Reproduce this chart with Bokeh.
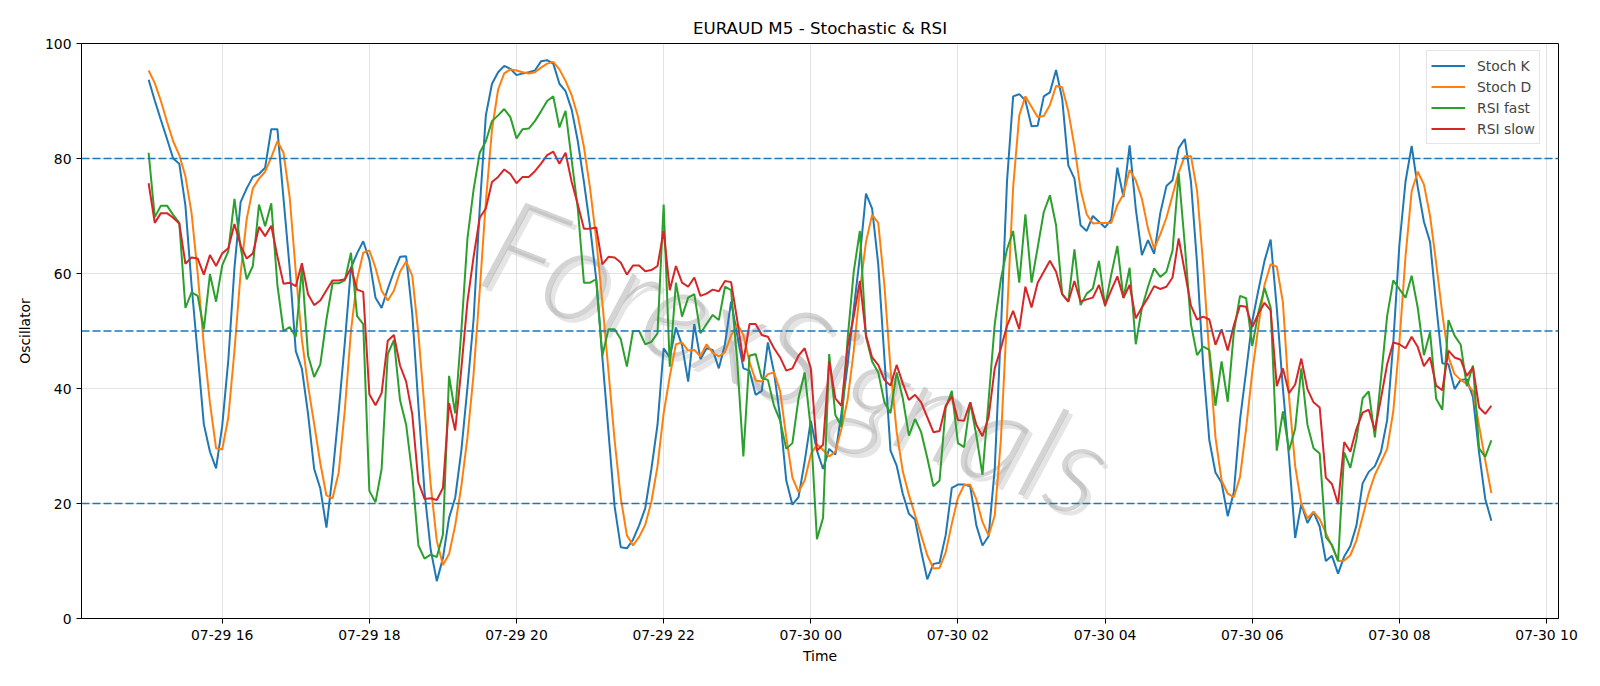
import pandas as pd
from bokeh.plotting import figure
from bokeh.models import Range1d, FixedTicker, Span
from bokeh.core.properties import value
from bokeh.embed import file_html
from bokeh.resources import INLINE

# 5-minute bars, EURAUD
start_time = "2024-07-29 15:00"

stoch_k = [
    93.7, 90.1, 86.7, 83.4, 80.0, 79.1, 71.8, 58.0, 46.0, 33.8,
    29.0, 26.1, 33.5, 45.0, 61.0, 72.4, 74.8, 76.8, 77.3, 78.4,
    85.1, 85.1, 73.0, 61.0, 46.5, 43.4, 35.6, 26.0, 22.6, 15.8,
    25.0, 36.0, 48.0, 61.0, 63.5, 65.6, 62.4, 55.8, 54.0, 57.3,
    60.3, 62.9, 63.0, 53.0, 37.0, 22.0, 12.0, 6.5, 10.5, 17.5,
    21.0, 29.2, 40.2, 52.0, 71.3, 87.5, 93.0, 95.0, 96.1, 95.6,
    94.5, 94.8, 95.0, 95.3, 96.9, 97.1, 96.5, 93.0, 91.7, 88.5,
    83.0, 75.9, 68.1, 59.0, 45.4, 32.4, 19.5, 12.4, 12.2, 13.7,
    16.2, 19.2, 26.0, 33.7, 47.0, 45.4, 50.6, 47.5, 41.2, 51.2,
    45.1, 47.0, 46.7, 43.5, 47.7, 55.1, 49.3, 43.5, 43.1, 38.9,
    39.6, 48.0, 42.8, 35.0, 24.0, 19.8, 21.1, 27.3, 34.4, 29.2,
    26.0, 29.5, 28.5, 35.7, 44.1, 53.8, 62.9, 73.9, 71.3, 61.6,
    45.4, 29.2, 26.6, 21.7, 18.2, 17.2, 11.7, 6.8, 9.5, 9.7,
    14.5, 22.7, 23.3, 23.3, 23.0, 16.2, 12.7, 14.3, 26.0, 50.0,
    76.0, 90.8, 91.2, 90.1, 85.6, 85.7, 90.8, 91.5, 95.4, 90.4,
    78.8, 76.5, 68.4, 67.4, 70.0, 69.0, 68.0, 69.4, 78.4, 73.3,
    82.3, 71.3, 63.2, 65.8, 63.4, 70.5, 75.2, 76.2, 81.8, 83.4,
    76.0, 61.7, 44.0, 31.0, 25.4, 23.6, 17.8, 22.0, 34.5, 43.0,
    51.7, 57.1, 62.2, 65.9, 54.0, 40.0, 28.0, 14.0, 19.9, 16.6,
    18.5, 16.0, 10.0, 10.9, 7.8, 10.8, 12.6, 16.2, 23.5, 25.5,
    26.5, 29.0, 34.5, 48.0, 65.0, 76.0, 82.2, 75.0, 69.0, 65.5,
    54.5, 44.4, 44.2, 39.9, 41.5, 41.6, 38.5, 28.8, 20.8, 17.0,
]

stoch_d = [
    95.3, 93.1, 90.0, 86.4, 83.0, 80.6, 76.9, 70.5, 60.0, 47.5,
    37.5, 29.6, 29.4, 35.0, 46.6, 60.0, 69.5, 74.8, 76.5, 77.7,
    80.2, 83.0, 81.0, 73.3, 60.3, 48.5, 40.5, 33.8, 27.0, 21.4,
    20.9, 25.4, 36.3, 50.0, 59.0, 63.6, 64.0, 61.0, 57.0, 55.3,
    57.0, 60.3, 62.1, 59.6, 49.5, 36.5, 23.3, 13.5, 9.3, 11.2,
    16.2, 23.0, 31.5, 42.5, 57.0, 72.5, 85.0, 92.0, 94.8, 95.5,
    95.3, 95.0, 94.8, 95.0, 95.8, 96.5, 96.8, 95.5, 93.5, 91.0,
    87.4, 82.0, 74.8, 66.0, 55.0, 43.0, 31.0, 21.0, 14.5, 12.7,
    14.2, 16.3, 20.3, 26.5, 35.7, 42.1, 47.7, 48.0, 46.6, 46.7,
    45.6, 47.7, 46.2, 45.6, 46.3, 49.2, 51.2, 49.3, 44.6, 41.4,
    41.2, 42.5, 42.8, 39.5, 31.5, 24.5, 22.0, 24.0, 28.5, 30.3,
    29.3, 28.2, 29.0, 33.0, 38.0, 46.5, 57.0, 65.5, 70.2, 68.8,
    58.0, 43.5, 32.5, 25.6, 21.5, 18.0, 14.5, 11.0, 8.7, 8.8,
    11.5, 16.5, 21.0, 23.2, 23.3, 20.7, 16.8, 14.4, 17.9, 31.0,
    52.5, 75.0, 87.5, 90.8, 89.0, 87.2, 87.4, 89.3, 92.6, 92.4,
    88.2, 82.1, 74.6, 70.3, 68.7, 68.8, 68.8, 68.8, 71.9, 73.8,
    78.0, 76.2, 73.0, 67.8, 64.3, 66.8, 69.7, 73.6, 77.6, 80.4,
    80.4, 74.4, 61.5, 45.8, 31.5, 24.0, 21.7, 21.1, 24.6, 33.0,
    42.8, 50.8, 58.0, 61.6, 61.2, 55.0, 38.5, 26.5, 20.0, 17.4,
    18.6, 17.3, 14.9, 12.6, 10.0, 10.1, 11.0, 13.6, 17.7, 21.8,
    25.0, 27.2, 29.5, 36.0, 48.0, 63.0, 74.3, 77.7, 75.5, 70.0,
    61.8, 53.0, 45.5, 42.5, 41.5, 40.8, 39.6, 33.5, 27.5, 21.8,
]

rsi_fast = [
    81.0, 69.8, 71.8, 71.8, 70.2, 68.8, 54.0, 56.7, 56.1, 50.3,
    59.9, 55.1, 61.4, 63.9, 73.0, 64.5, 59.0, 61.3, 72.0, 68.2,
    72.2, 58.0, 50.0, 50.7, 49.0, 61.0, 45.8, 42.0, 44.2, 52.0,
    58.3, 58.3, 58.8, 63.6, 52.6, 51.2, 22.2, 20.2, 26.0, 46.0,
    48.4, 38.0, 33.7, 25.0, 12.7, 10.4, 11.1, 10.7, 14.6, 42.2,
    35.7, 50.0, 66.1, 74.6, 81.0, 83.0, 86.5, 87.5, 88.6, 87.2,
    83.5, 85.1, 85.2, 86.5, 88.2, 90.0, 90.8, 85.4, 88.3, 79.7,
    71.3, 58.4, 58.4, 59.0, 45.7, 50.3, 50.3, 48.6, 43.8, 50.0,
    50.0, 47.7, 48.1, 49.6, 72.0, 43.8, 58.4, 52.5, 55.8, 56.4,
    49.6, 51.2, 52.8, 51.9, 57.7, 57.1, 44.7, 28.2, 45.7, 46.0,
    41.8, 41.5, 37.0, 34.4, 29.5, 30.5, 38.3, 42.8, 33.0, 13.8,
    17.5, 46.0, 35.4, 33.4, 48.6, 60.3, 67.4, 49.0, 44.7, 42.8,
    37.6, 35.7, 42.8, 38.3, 31.8, 34.7, 32.4, 27.9, 23.0, 24.0,
    36.6, 39.6, 30.5, 29.8, 37.6, 31.8, 25.0, 38.0, 51.2, 59.0,
    64.2, 67.4, 58.4, 70.3, 58.4, 64.5, 70.7, 73.6, 68.4, 56.4,
    55.1, 64.2, 54.5, 56.5, 57.4, 62.2, 54.3, 59.8, 64.8, 55.7,
    61.0, 47.7, 54.0, 57.7, 60.9, 59.4, 60.3, 64.0, 77.4, 65.0,
    51.2, 45.8, 47.3, 46.7, 37.0, 44.7, 37.7, 49.8, 56.1, 55.7,
    47.4, 53.2, 57.5, 54.1, 29.2, 36.0, 29.2, 33.0, 43.5, 33.7,
    29.6, 28.7, 14.2, 12.8, 10.0, 28.9, 26.2, 31.2, 38.3, 39.5,
    31.5, 41.8, 52.6, 58.8, 57.3, 55.8, 59.6, 54.0, 45.8, 49.8,
    38.2, 36.3, 51.9, 49.2, 47.6, 40.4, 44.0, 29.6, 28.1, 31.0,
]

rsi_slow = [
    75.7, 68.8, 70.5, 70.5, 69.7, 68.7, 61.7, 62.8, 62.6, 59.8,
    63.2, 61.3, 63.5, 64.4, 68.6, 64.9, 62.6, 63.5, 68.1, 66.5,
    68.3, 63.0, 58.2, 58.4, 57.8, 61.8, 56.4, 54.5, 55.3, 57.1,
    58.8, 58.8, 59.0, 60.9, 57.2, 56.8, 39.0, 37.1, 39.2, 48.3,
    49.3, 44.0, 41.2, 35.5, 23.7, 20.8, 20.9, 20.6, 22.7, 37.5,
    32.7, 43.4, 55.1, 62.9, 69.7, 71.3, 75.9, 76.8, 78.1, 77.3,
    75.7, 76.8, 76.8, 77.8, 79.1, 80.6, 81.2, 79.1, 81.0, 75.9,
    72.0, 67.8, 67.8, 68.0, 61.6, 62.9, 62.8, 61.9, 59.8, 61.4,
    61.4, 60.4, 60.6, 61.3, 67.4, 57.1, 61.3, 58.4, 57.7, 59.3,
    56.1, 56.5, 57.2, 56.9, 58.7, 58.5, 51.9, 44.7, 51.2, 51.2,
    49.3, 49.0, 47.0, 45.4, 43.1, 43.5, 45.7, 47.0, 43.5, 29.2,
    30.2, 44.7, 38.3, 37.0, 47.3, 52.5, 58.7, 49.3, 45.4, 44.1,
    41.5, 40.5, 44.1, 40.9, 38.0, 38.9, 37.6, 35.0, 32.4, 32.6,
    37.0, 38.6, 34.5, 34.4, 37.6, 33.7, 31.7, 35.0, 43.5, 47.0,
    50.9, 53.5, 50.3, 57.7, 54.1, 58.4, 60.3, 62.2, 60.3, 56.4,
    55.1, 58.7, 55.1, 55.5, 55.8, 58.0, 54.5, 57.1, 59.5, 55.8,
    58.0, 52.2, 54.1, 55.8, 57.8, 57.3, 57.7, 59.3, 66.1, 60.3,
    54.4, 52.0, 52.5, 52.0, 47.6, 50.3, 46.6, 51.0, 54.4, 54.2,
    50.7, 53.0, 54.9, 53.6, 40.4, 43.5, 39.2, 40.7, 45.2, 39.9,
    37.6, 36.7, 24.5, 23.4, 19.9, 30.7, 29.0, 33.0, 35.8, 36.3,
    32.7, 38.3, 44.2, 48.0, 47.7, 47.0, 49.0, 47.2, 43.9, 45.4,
    40.5, 39.7, 46.6, 45.4, 45.0, 42.2, 43.7, 36.7, 35.6, 37.0,
]

tick_times = [
    "2024-07-29 16:00", "2024-07-29 18:00", "2024-07-29 20:00",
    "2024-07-29 22:00", "2024-07-30 00:00", "2024-07-30 02:00",
    "2024-07-30 04:00", "2024-07-30 06:00", "2024-07-30 08:00",
    "2024-07-30 10:00",
]
tick_labels = [
    "07-29 16", "07-29 18", "07-29 20", "07-29 22", "07-30 00",
    "07-30 02", "07-30 04", "07-30 06", "07-30 08", "07-30 10",
]
levels = [80, 50, 20]

series_names = ["Stoch K", "Stoch D", "RSI fast", "RSI slow"]
series_colors = ["#1f77b4", "#ff7f0e", "#2ca02c", "#d62728"]

watermark_text = "ForexSignals"
watermark_time = "2024-07-29 23:50"
watermark_level = 46


def to_ms(t):
    return pd.Timestamp(t).value / 1e6


times = pd.date_range(start_time, periods=len(stoch_k), freq="5min")
t_ms = [t.value / 1e6 for t in times]
pad = (t_ms[-1] - t_ms[0]) * 0.05

FONT = "DejaVu Sans"

p = figure(
    width=1600, height=686,
    x_axis_type="datetime",
    x_range=Range1d(t_ms[0] - pad, t_ms[-1] + pad),
    y_range=Range1d(0, 100),
    output_backend="svg",
    toolbar_location=None,
)
p.min_border_left = 81
p.min_border_right = 42
p.min_border_top = 43
p.min_border_bottom = 68
p.background_fill_color = "white"
p.border_fill_color = "white"
p.outline_line_color = "black"
p.outline_line_width = 1

p.title.text = "EURAUD M5 - Stochastic & RSI"
p.title.align = "center"
p.title.text_font = FONT
p.title.text_font_size = "16.7px"
p.title.text_font_style = "normal"
p.title.text_color = "black"
p.title.standoff = 12

# watermark under the data: thin grey lettering with a soft shadow
wm = dict(
    x=[to_ms(watermark_time)], y=[watermark_level], text=[watermark_text],
    angle=-0.37, text_align="center", text_baseline="middle",
    text_font=value("Lato Light"), text_font_style="italic",
    text_font_size="132px",
)
p.text(**wm, x_offset=4, y_offset=4, text_color="#cfcfcf", text_alpha=0.55)
p.text(**wm, text_color="#a9a9a9", text_alpha=0.5)

for lvl in levels:
    p.add_layout(Span(location=lvl, dimension="width", line_color="#1f77b4",
                      line_dash="8 3", line_width=1.3))

for vals, name, col in zip([stoch_k, stoch_d, rsi_fast, rsi_slow],
                           series_names, series_colors):
    p.line(t_ms, vals, line_color=col, line_width=2, legend_label=name)

tick_ms = [to_ms(t) for t in tick_times]
p.xaxis.ticker = FixedTicker(ticks=tick_ms)
p.xaxis.major_label_overrides = {m: lab for m, lab in zip(tick_ms, tick_labels)}
p.yaxis.ticker = FixedTicker(ticks=[0, 20, 40, 60, 80, 100])

for ax in (p.xaxis[0], p.yaxis[0]):
    ax.major_label_text_font = FONT
    ax.major_label_text_font_size = "13.9px"
    ax.major_label_text_color = "black"
    ax.axis_label_text_font = FONT
    ax.axis_label_text_font_size = "13.9px"
    ax.axis_label_text_font_style = "normal"
    ax.axis_label_text_color = "black"
    ax.axis_line_color = "black"
    ax.major_tick_line_color = "black"
    ax.major_tick_out = 5
    ax.major_tick_in = 0
    ax.minor_tick_line_color = None

p.xaxis.major_label_standoff = 3
p.yaxis.major_label_standoff = 5
p.xaxis.axis_label = "Time"
p.yaxis.axis_label = "Oscillator"
p.xaxis.axis_label_standoff = 2
p.yaxis.axis_label_standoff = 9

p.xgrid.ticker = FixedTicker(ticks=tick_ms)
p.ygrid.ticker = FixedTicker(ticks=[0, 20, 40, 60, 80, 100])
for g in (p.xgrid[0], p.ygrid[0]):
    g.grid_line_color = "#b0b0b0"
    g.grid_line_alpha = 0.35
    g.grid_line_width = 1

lg = p.legend[0]
lg.location = (1345, 474)
lg.margin = 0
lg.padding = 4
lg.spacing = 0
lg.label_height = 21
lg.glyph_height = 21
lg.glyph_width = 34
lg.label_standoff = 12
lg.label_text_font = FONT
lg.label_text_font_size = "13.9px"
lg.border_line_color = "#cccccc"
lg.border_line_width = 1
lg.background_fill_alpha = 0.8

open("out.html", "w").write(file_html(p, INLINE))
